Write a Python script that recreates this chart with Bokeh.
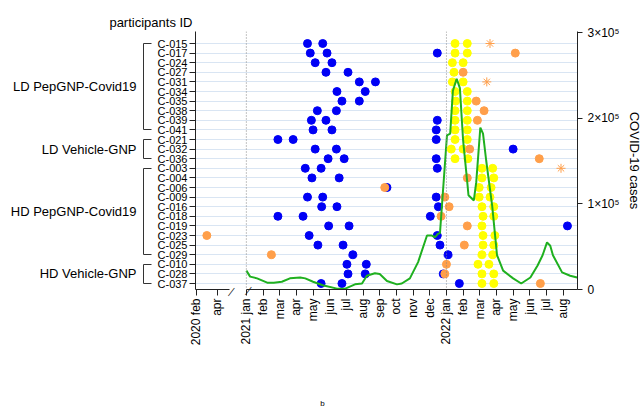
import math
import calendar
from bokeh.plotting import figure
from bokeh.models import (Range1d, LinearAxis, FixedTicker, CustomJSTickFormatter,
                          Span, Label)
from bokeh.embed import file_html
from bokeh.resources import INLINE

# ---------------- data ----------------
group_names = ["LD PepGNP-Covid19", "LD Vehicle-GNP", "HD PepGNP-Covid19", "HD Vehicle-GNP"]
group_members = [
    ["C-015", "C-017", "C-024", "C-027", "C-031", "C-034", "C-035", "C-038", "C-039", "C-041"],
    ["C-021", "C-032", "C-036"],
    ["C-003", "C-004", "C-006", "C-009", "C-016", "C-018", "C-019", "C-023", "C-025", "C-029"],
    ["C-010", "C-028", "C-037"],
]
participants = [pid for g in group_members for pid in g]

blue_ids = ["C-015", "C-015", "C-017", "C-017", "C-017", "C-024", "C-024", "C-027", "C-027",
            "C-031", "C-031", "C-034", "C-034", "C-035", "C-035", "C-038", "C-038",
            "C-039", "C-039", "C-039", "C-041", "C-041", "C-041", "C-021", "C-021", "C-021",
            "C-032", "C-032", "C-032", "C-036", "C-036", "C-036", "C-003", "C-003", "C-003",
            "C-004", "C-004", "C-006", "C-009", "C-009", "C-009", "C-016", "C-016", "C-016",
            "C-018", "C-018", "C-018", "C-019", "C-019", "C-019", "C-023", "C-023",
            "C-025", "C-025", "C-025", "C-029", "C-029", "C-010", "C-010",
            "C-028", "C-028", "C-028", "C-037", "C-037", "C-037"]
blue_dates = ["2021-04-21", "2021-05-19", "2021-04-26", "2021-05-27", "2021-12-15", "2021-05-05", "2021-06-05",
              "2021-05-25", "2021-07-04", "2021-07-25", "2021-08-24", "2021-06-14", "2021-08-05",
              "2021-06-23", "2021-07-25", "2021-05-09", "2021-06-13",
              "2021-04-28", "2021-05-25", "2021-12-15", "2021-05-01", "2021-06-05", "2021-12-13",
              "2021-02-26", "2021-03-26", "2021-12-13", "2021-05-05", "2021-06-13", "2022-05-01",
              "2021-05-29", "2021-06-27", "2021-12-13", "2021-04-17", "2021-05-16", "2021-12-15",
              "2021-04-29", "2021-06-18", "2021-09-14", "2021-04-21", "2021-05-19", "2021-12-13",
              "2021-05-17", "2021-06-14", "2021-12-17", "2021-02-26", "2021-04-13", "2021-12-02",
              "2021-05-30", "2021-07-06", "2022-08-09", "2021-04-24", "2021-12-15",
              "2021-05-10", "2021-06-25", "2021-12-20", "2021-07-13", "2022-01-04",
              "2021-07-02", "2021-08-07", "2021-07-04", "2021-08-05", "2021-12-26",
              "2021-05-16", "2021-06-23", "2022-01-25"]

yellow_ids = ["C-015", "C-015", "C-017", "C-017", "C-024", "C-024", "C-027", "C-031", "C-031",
              "C-034", "C-034", "C-035", "C-035", "C-038", "C-038", "C-039", "C-039",
              "C-041", "C-041", "C-021", "C-021", "C-032", "C-032", "C-036", "C-036",
              "C-003", "C-003", "C-004", "C-004", "C-006", "C-006", "C-009", "C-009",
              "C-016", "C-016", "C-018", "C-018", "C-019", "C-023", "C-023", "C-025", "C-025",
              "C-029", "C-029", "C-010", "C-010", "C-028", "C-028", "C-037", "C-037"]
yellow_dates = ["2022-01-17", "2022-02-08", "2022-01-17", "2022-02-08", "2022-01-12", "2022-02-01",
                "2022-01-15", "2022-01-12", "2022-02-01", "2022-01-17", "2022-02-08",
                "2022-01-18", "2022-02-08", "2022-01-17", "2022-02-08", "2022-01-17", "2022-02-08",
                "2022-01-17", "2022-02-08", "2022-01-17", "2022-02-08", "2022-01-10", "2022-02-01",
                "2022-01-17", "2022-02-09", "2022-03-05", "2022-03-25", "2022-03-05", "2022-03-27",
                "2022-02-28", "2022-03-22", "2022-02-28", "2022-03-20", "2022-03-05", "2022-03-27",
                "2022-03-07", "2022-03-27", "2022-03-05", "2022-03-07", "2022-03-29",
                "2022-03-07", "2022-03-27", "2022-03-05", "2022-03-25", "2022-02-26", "2022-03-18",
                "2022-03-05", "2022-03-27", "2022-03-05", "2022-03-27"]

orange_ids = ["C-017", "C-027", "C-035", "C-038", "C-039", "C-032", "C-036", "C-004", "C-006",
              "C-009", "C-016", "C-018", "C-019", "C-023", "C-025", "C-029", "C-010", "C-028", "C-037"]
orange_dates = ["2022-05-05", "2022-02-01", "2022-02-23", "2022-03-09", "2022-02-25", "2022-02-12",
                "2022-06-18", "2022-02-08", "2021-09-10", "2021-12-29", "2022-01-06", "2021-12-22",
                "2022-02-08", "2020-03-01", "2022-02-03", "2021-02-15", "2022-01-01", "2021-12-29",
                "2022-06-20"]

star_ids = ["C-015", "C-031", "C-003"]
star_dates = ["2022-03-20", "2022-03-14", "2022-07-28"]

case_dates = ["2021-01-01", "2021-01-08", "2021-01-21", "2021-02-08", "2021-02-19", "2021-03-05",
              "2021-03-20", "2021-04-08", "2021-04-17", "2021-05-01", "2021-05-19", "2021-06-14",
              "2021-06-29", "2021-07-17", "2021-07-30", "2021-08-08", "2021-08-23", "2021-09-01",
              "2021-09-14", "2021-10-02", "2021-10-11", "2021-10-26", "2021-11-10", "2021-11-26",
              "2021-12-05", "2021-12-11", "2021-12-16", "2021-12-20", "2022-01-02", "2022-01-08",
              "2022-01-13", "2022-01-20", "2022-01-26", "2022-02-01", "2022-02-08", "2022-02-10",
              "2022-02-19", "2022-02-23", "2022-03-02", "2022-03-07", "2022-03-13", "2022-03-24",
              "2022-04-02", "2022-04-13", "2022-05-01", "2022-05-16", "2022-06-02", "2022-06-15",
              "2022-06-24", "2022-07-02", "2022-07-08", "2022-07-13", "2022-07-30", "2022-08-14",
              "2022-08-27"]
case_counts = [22000, 15000, 13000, 8000, 8000, 9000,
               13000, 14000, 13000, 9000, 5000, 1000,
               1000, 6000, 7000, 16000, 19000, 18000,
               10000, 6000, 7000, 13000, 32000, 63000,
               63000, 61000, 65000, 66000, 180000, 182000,
               232000, 246000, 235000, 174000, 125000, 110000,
               104000, 125000, 189000, 182000, 150000, 98000,
               40000, 22000, 13000, 7000, 14000, 28000,
               40000, 55000, 51000, 40000, 20000, 16000,
               14000]

tick_dates = ["2020-02-01", "2020-04-01",
              "2021-01-01", "2021-02-01", "2021-03-01", "2021-04-01", "2021-05-01", "2021-06-01",
              "2021-07-01", "2021-08-01", "2021-09-01", "2021-10-01", "2021-11-01", "2021-12-01",
              "2022-01-01", "2022-02-01", "2022-03-01", "2022-04-01", "2022-05-01", "2022-06-01",
              "2022-07-01", "2022-08-01"]
tick_labels = ["2020 feb", "apr",
               "2021 jan", "feb", "mar", "apr", "may", "jun", "jul", "aug", "sep", "oct", "nov", "dec",
               "2022 jan", "feb", "mar", "apr", "may", "jun", "jul", "aug"]
case_ticks = [0, 100000, 200000, 300000]
case_tick_labels = ["0", "1×10⁵", "2×10⁵", "3×10⁵"]


# ---------------- helpers ----------------
def to_x(s):
    """Broken time axis: months since 2021-01 ; 2020 segment compressed."""
    y, m, d = map(int, s.split("-"))
    frac = (d - 1) / calendar.monthrange(y, m)[1]
    if y >= 2021:
        return (y - 2021) * 12 + (m - 1) + frac
    return -3 + ((m - 2) + frac) * 0.63


N = len(participants)


def to_row(pid):
    return N - 1 - participants.index(pid)


XR = (-3.05, 19.86)
YR = (-0.625, N + 0.25)
FL, FR, FT, FB = 195, 577, 31, 289


def px_x(px):
    return XR[0] + (px - FL) / (FR - FL) * (XR[1] - XR[0])


def px_y(py):
    return YR[1] - (py - FT) / (FB - FT) * (YR[1] - YR[0])


def blank():
    return CustomJSTickFormatter(code="return '';")


FONT = "Liberation Sans"
BLUE = "#0000f5"
YELLOW = "#ffff00"
ORANGE = "#ff9f4a"
GREEN = "#1fb01f"
AX = "#222222"

# ---------------- figure ----------------
p = figure(width=644, height=410, output_backend="svg", toolbar_location=None,
           x_range=Range1d(*XR), y_range=Range1d(*YR),
           min_border_left=FL, min_border_right=644 - FR, min_border_top=FT,
           min_border_bottom=410 - FB)
p.outline_line_color = None
p.background_fill_color = "white"
p.border_fill_color = "white"
p.xgrid.visible = False
p.ygrid.ticker = FixedTicker(ticks=list(range(N)))
p.ygrid.grid_line_color = "#d9e5f3"
p.ygrid.grid_line_width = 1

# title "participants ID" placed above the participant axis
p.title.text = "participants ID"
p.title.align = "right"
p.title.offset = FR - 192
p.title.standoff = 4
p.title.text_font = FONT
p.title.text_font_size = "13px"
p.title.text_font_style = "normal"
p.title.text_color = "black"

# left axis: participants
yax = p.left[0]
yax.ticker = FixedTicker(ticks=list(range(N)))
yax.formatter = CustomJSTickFormatter(args=dict(names=participants[::-1]),
                                      code="return names[Math.round(tick)] || '';")
yax.major_label_text_font = FONT
yax.major_label_text_font_size = "11px"
yax.major_label_text_color = "black"
yax.major_label_standoff = 2
yax.major_tick_out = 6
yax.major_tick_in = 0
yax.minor_tick_line_color = None
yax.axis_line_color = AX
yax.major_tick_line_color = AX

# invisible spacer so the brackets sit a little left of the participant labels
spacer = LinearAxis(ticker=FixedTicker(ticks=[0]), formatter=blank())
spacer.axis_line_color = None
spacer.major_tick_line_color = None
spacer.minor_tick_line_color = None
spacer.major_tick_out = 11
spacer.major_tick_in = 0
spacer.major_label_standoff = 0
p.add_layout(spacer, "left")

# group brackets: zero-width axes bounded to each group's rows
for members in group_members:
    top = to_row(members[0])
    bot = to_row(members[-1])
    bax = LinearAxis(bounds=(bot, top), ticker=FixedTicker(ticks=[bot, top]), formatter=blank())
    bax.axis_line_color = "#333333"
    bax.major_tick_line_color = "#333333"
    bax.minor_tick_line_color = None
    bax.major_tick_in = 8
    bax.major_tick_out = 0
    bax.major_label_standoff = 0
    p.add_layout(bax, "left")

# outer left axis: treatment groups
group_pos = [(to_row(m[0]) + to_row(m[-1])) / 2 for m in group_members]
gax = LinearAxis(ticker=FixedTicker(ticks=group_pos),
                 formatter=CustomJSTickFormatter(
                     args=dict(gpos=group_pos, gnames=group_names),
                     code="for (let i = 0; i < gpos.length; i++) { if (Math.abs(gpos[i] - tick) < 1e-6) return gnames[i]; } return '';"))
gax.axis_line_color = None
gax.major_tick_line_color = None
gax.minor_tick_line_color = None
gax.major_tick_out = 0
gax.major_tick_in = 0
gax.major_label_standoff = 7
gax.major_label_text_font = FONT
gax.major_label_text_font_size = "13px"
gax.major_label_text_color = "black"
p.add_layout(gax, "left")

# bottom axis: broken time axis
xax = p.below[0]
xticks = [to_x(d) for d in tick_dates]
xax.ticker = FixedTicker(ticks=xticks)
xax.formatter = CustomJSTickFormatter(
    args=dict(tpos=xticks, tnames=tick_labels),
    code="for (let i = 0; i < tpos.length; i++) { if (Math.abs(tpos[i] - tick) < 1e-6) return tnames[i]; } return '';")
xax.major_label_orientation = math.pi / 2
xax.major_label_text_font = FONT
xax.major_label_text_font_size = "12px"
xax.major_label_text_color = "black"
xax.major_label_standoff = 3
xax.major_tick_out = 6
xax.major_tick_in = 0
xax.minor_tick_line_color = None
xax.axis_line_color = None
xax.major_tick_line_color = AX

# axis line drawn in two zero-height pieces around the break (placed next to the frame)
segs = []
for a, b in [(XR[0], px_x(229)), (px_x(246), XR[1])]:
    sax = LinearAxis(bounds=(a, b), ticker=FixedTicker(ticks=[]), formatter=blank())
    sax.axis_line_color = AX
    sax.major_tick_line_color = None
    sax.minor_tick_line_color = None
    sax.major_tick_out = 0
    sax.major_tick_in = 0
    sax.major_label_standoff = 0
    segs.append(sax)
p.below = segs + [xax]

# break marks
for cx, cy in [(230, 291), (247, 290)]:
    p.add_layout(Label(x=px_x(cx), y=px_y(cy), text="—", angle=math.radians(52),
                       text_align="center", text_baseline="middle", text_font=FONT,
                       text_font_size="10px", text_color=AX), "below")

# right axis: cases
p.extra_y_ranges = {"cases": Range1d(0, 300000 * (FB - FT) / (FB - FT - 1))}
rax = LinearAxis(y_range_name="cases", ticker=FixedTicker(ticks=case_ticks),
                 formatter=CustomJSTickFormatter(
                     args=dict(cpos=case_ticks, cnames=case_tick_labels),
                     code="const i = cpos.indexOf(Math.round(tick)); return i >= 0 ? cnames[i] : '';"),
                 axis_label="COVID-19 cases")
rax.major_label_text_font = FONT
rax.major_label_text_font_size = "12px"
rax.major_label_text_color = "black"
rax.major_label_standoff = 5
rax.major_tick_out = 5
rax.major_tick_in = 0
rax.minor_tick_line_color = None
rax.axis_line_color = AX
rax.major_tick_line_color = AX
rax.axis_label_text_font = FONT
rax.axis_label_text_font_size = "13px"
rax.axis_label_text_font_style = "normal"
rax.axis_label_text_color = "black"
rax.axis_label_standoff = 4
p.add_layout(rax, "right")

# year separators
for d in ["2021-01-01", "2022-01-01"]:
    p.add_layout(Span(location=to_x(d), dimension="height", line_color="#888888",
                      line_width=1, line_dash="1 2"))

# dots
p.scatter([to_x(d) for d in blue_dates], [to_row(i) for i in blue_ids],
          marker="circle", size=8, fill_color=BLUE, line_color=BLUE)
p.scatter([to_x(d) for d in yellow_dates], [to_row(i) for i in yellow_ids],
          marker="circle", size=8, fill_color=YELLOW, line_color=YELLOW)
p.scatter([to_x(d) for d in orange_dates], [to_row(i) for i in orange_ids],
          marker="circle", size=8, fill_color=ORANGE, line_color=ORANGE)
p.scatter([to_x(d) for d in star_dates], [to_row(i) for i in star_ids],
          marker="asterisk", size=9, line_color=ORANGE, line_width=1)

# COVID-19 cases
p.line([to_x(d) for d in case_dates], case_counts, y_range_name="cases",
       line_color=GREEN, line_width=2)

p.add_layout(Label(x=px_x(322), y=px_y(403), text="b", text_align="center",
                   text_baseline="middle", text_font=FONT, text_font_size="8px",
                   text_color="black"), "below")

open("out.html", "w").write(file_html(p, INLINE))
